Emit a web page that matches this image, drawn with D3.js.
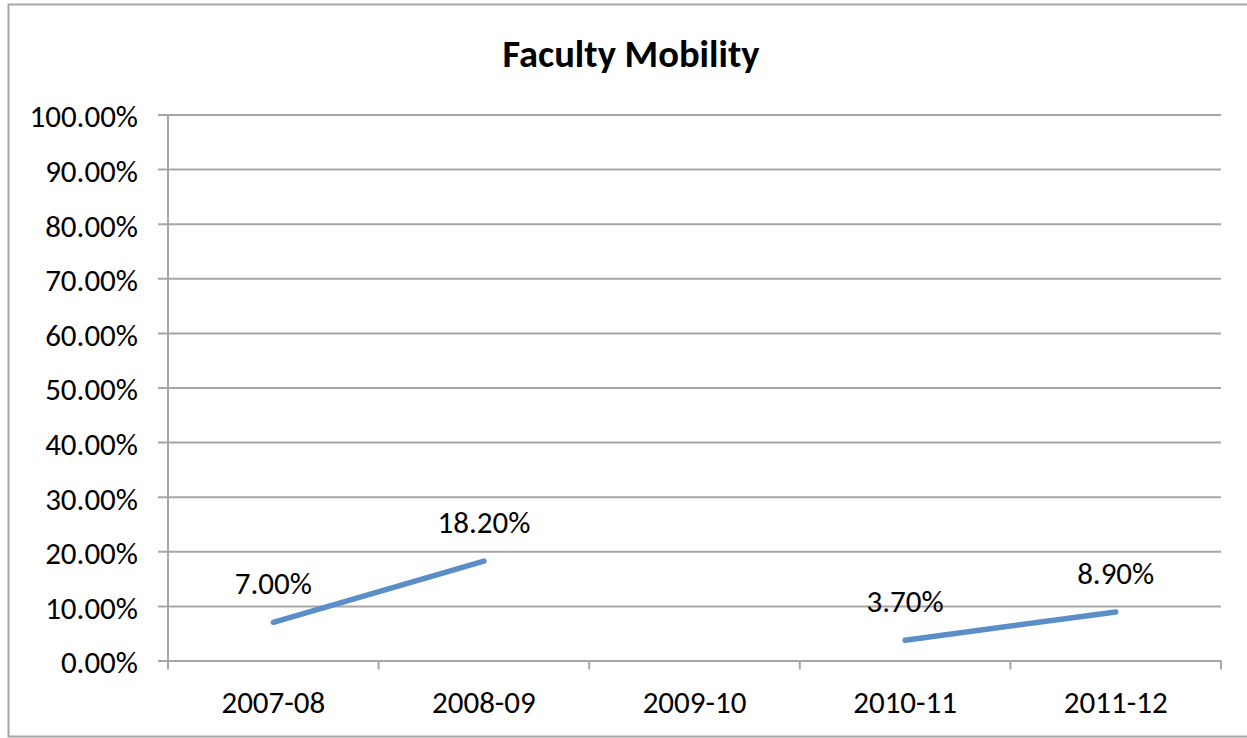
<!DOCTYPE html>
<html>
<head>
<meta charset="utf-8">
<script src="https://cdn.jsdelivr.net/npm/d3@7"></script>
<style>
  body { margin: 0; background: #fff; }
  text { font-family: Carlito, Calibri, "Open Sans", sans-serif; fill: #000; }
</style>
</head>
<body>
<div id="chart"></div>
<script>
// datos
const years = ['2007-08', '2008-09', '2009-10', '2010-11', '2011-12'];
const mobility = [0.07, 0.182, null, 0.037, 0.089];
const yTicks = [0, 0.1, 0.2, 0.3, 0.4, 0.5, 0.6, 0.7, 0.8, 0.9, 1];

let width = 1247, height = 738;
let margin = {top: 114.5, right: 26, bottom: 77.5, left: 168};

const svg = d3.select('#chart')
    .append('svg')
    .attr('width', width)
    .attr('height', height);

// marco exterior
svg.append('rect')
    .attr('x', 8.5).attr('y', 4.5)
    .attr('width', width + 10).attr('height', 732)
    .attr('fill', 'none')
    .attr('stroke', '#a6a6a6')
    .attr('stroke-width', 2);

let x = d3.scaleBand()
    .domain(years)
    .range([margin.left, width - margin.right]);

let y = d3.scaleLinear()
    .domain([0, 1])
    .range([height - margin.bottom, margin.top]);

// titulo
svg.append('text')
    .attr('x', 631).attr('y', 67)
    .attr('text-anchor', 'middle')
    .style('font-size', '38.5px')
    .style('font-weight', 'bold')
    .text('Faculty Mobility');

// eje y + rejilla
let yAxis = svg.append('g')
    .attr('transform', 'translate(' + margin.left + ',0)')
    .call(d3.axisLeft(y)
        .tickValues(yTicks)
        .tickSize(10)
        .tickPadding(20)
        .tickFormat(d => (d * 100).toFixed(2) + '%'));
yAxis.select('.domain').attr('stroke', '#a6a6a6').attr('stroke-width', 2).attr('d', 'M0,' + y(1) + 'V' + y(0));
yAxis.selectAll('.tick line').attr('stroke', '#a6a6a6').attr('stroke-width', 2)
    .attr('x1', -10).attr('x2', width - margin.right - margin.left);
yAxis.selectAll('.tick text').style('font-size', '31px').attr('dy', '0.4em');

// eje x
let xAxis = svg.append('g')
    .attr('transform', 'translate(0,' + y(0) + ')')
    .call(d3.axisBottom(x).tickSize(0).tickPadding(30));
xAxis.select('.domain').remove();
xAxis.selectAll('.tick text').style('font-size', '31px');

// marcas del eje x (entre categorias)
let bounds = years.map(d => x(d)).concat([x.range()[1]]);
svg.selectAll('.xtick')
    .data(bounds)
    .enter()
    .append('line')
    .attr('x1', d => d).attr('x2', d => d)
    .attr('y1', y(0)).attr('y2', y(0) + 9)
    .attr('stroke', '#a6a6a6')
    .attr('stroke-width', 2);

// linea
let pts = years.map((d, i) => ({year: d, value: mobility[i]}));
let line = d3.line()
    .defined(d => d.value !== null)
    .x(d => x(d.year) + x.bandwidth() / 2)
    .y(d => y(d.value));

svg.append('path')
    .datum(pts)
    .attr('d', line)
    .attr('fill', 'none')
    .attr('stroke', '#5b8ec9')
    .attr('stroke-width', 5.5)
    .attr('stroke-linecap', 'round');

// etiquetas
svg.selectAll('.lbl')
    .data(pts.filter(d => d.value !== null))
    .enter()
    .append('text')
    .attr('x', d => x(d.year) + x.bandwidth() / 2)
    .attr('y', d => y(d.value) - 28)
    .attr('text-anchor', 'middle')
    .style('font-size', '31px')
    .text(d => (d.value * 100).toFixed(2) + '%');
</script>
</body>
</html>
